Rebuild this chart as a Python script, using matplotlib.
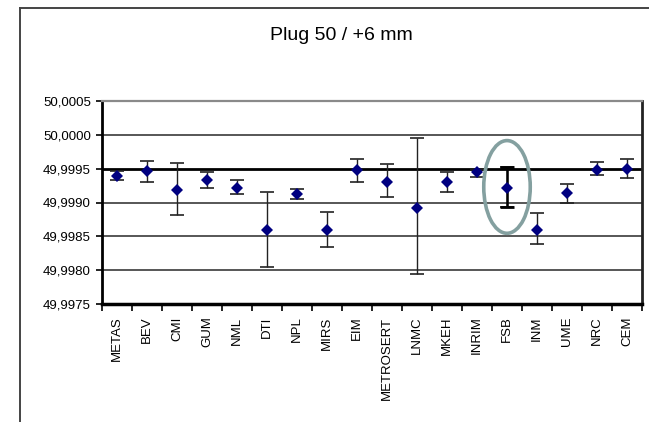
import matplotlib
matplotlib.use("Agg")
import matplotlib.pyplot as plt
from matplotlib.patches import Ellipse
from matplotlib.ticker import FixedLocator, FuncFormatter

plt.rcParams['font.family'] = ['Liberation Sans', 'DejaVu Sans']

labs = ["METAS", "BEV", "CMI", "GUM", "NML", "DTI", "NPL", "MIRS", "EIM",
        "METROSERT", "LNMC", "MKEH", "INRIM", "FSB", "INM", "UME", "NRC", "CEM"]
vals = [49.99939, 49.99947, 49.99918, 49.99933, 49.99922, 49.99860, 49.99912, 49.99860, 49.99948,
        49.99930, 49.99892, 49.99931, 49.99945, 49.99922, 49.99860, 49.99914, 49.99948, 49.99950]
err_hi = [49.99946, 49.99962, 49.99959, 49.99945, 49.99933, 49.99915, 49.99920, 49.99886, 49.99965,
          49.99957, 49.99995, 49.99945, 49.99950, 49.99953, 49.99884, 49.99928, 49.99960, 49.99965]
err_lo = [49.99933, 49.99931, 49.99881, 49.99922, 49.99912, 49.99805, 49.99905, 49.99834, 49.99931,
          49.99908, 49.99794, 49.99915, 49.99938, 49.99893, 49.99838, 49.99899, 49.99940, 49.99936]
ref_val = 49.9995
highlight = "FSB"

fig = plt.figure(figsize=(6.49, 4.22), dpi=100)
ax = fig.add_axes([102/649, 1 - 304/422, 540/649, 203/422])

x = list(range(len(labs)))
lower = [v - lo for v, lo in zip(vals, err_lo)]
upper = [hi - v for v, hi in zip(vals, err_hi)]

for y in [50.0000, 49.9990, 49.9985, 49.9980]:
    ax.axhline(y, color='#3a3a3a', lw=1.2, zorder=1)
ax.axhline(ref_val, color='black', lw=2, zorder=1)

ax.errorbar(x, vals, yerr=[lower, upper], fmt='none', ecolor='#222222',
            elinewidth=1, capsize=5, capthick=1.2, zorder=2)
ax.plot(x, vals, 'D', color='#000080', ms=6.5, zorder=3, markeredgewidth=0)

# highlighted lab: heavier error bar and an ellipse round it
i = labs.index(highlight)
ax.errorbar([i], [vals[i]], yerr=[[lower[i]], [upper[i]]], fmt='none', ecolor='black',
            elinewidth=1.8, capsize=5, capthick=2, zorder=2)
ax.add_patch(Ellipse((i, (err_hi[i] + err_lo[i]) / 2), 1.55, 0.00137, fill=False,
                     edgecolor='#84a0a0', lw=2.6, zorder=4))

ax.set_xlim(-0.5, len(labs) - 0.5)
ax.set_ylim(49.9975, 50.0005)
ax.set_yticks([49.9975, 49.9980, 49.9985, 49.9990, 49.9995, 50.0000, 50.0005])
ax.yaxis.set_major_formatter(FuncFormatter(lambda v, p: f"{v:.4f}".replace('.', ',')))
ax.set_xticks(x)
ax.set_xticklabels(labs, rotation=90, fontsize=9.5)
ax.xaxis.set_minor_locator(FixedLocator([k - 0.5 for k in range(len(labs) + 1)]))
ax.tick_params(axis='x', which='major', length=0, pad=9)
ax.tick_params(axis='x', which='minor', length=5, width=1.2, direction='out')
ax.tick_params(axis='y', length=4, width=1.2, direction='out', labelsize=9.5, pad=4)

ax.spines['left'].set_linewidth(2)
ax.spines['bottom'].set_linewidth(2.5)
ax.spines['right'].set_linewidth(2)
ax.spines['right'].set_color('#222222')
ax.spines['top'].set_linewidth(1.6)
ax.spines['top'].set_color('#8a8a8a')

fig.text(341/649, 1 - 35/422, "Plug 50 / +6 mm", ha='center', va='center', fontsize=14)

# outer chart frame
fig.add_artist(plt.Line2D([20/649, 20/649], [0, 1 - 8/422], color='#444444', lw=1.4))
fig.add_artist(plt.Line2D([20/649, 1], [1 - 8/422, 1 - 8/422], color='#444444', lw=1.4))

fig.savefig("out.png", dpi=100)
